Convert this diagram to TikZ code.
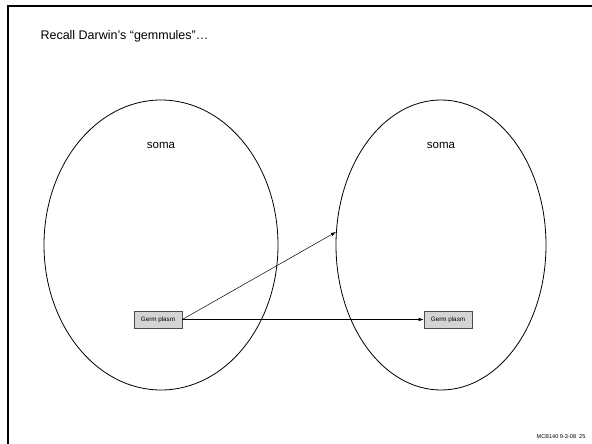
\documentclass[tikz,border=0pt]{standalone}
\usepackage{fontspec}
\setmainfont{Liberation Sans}
\usetikzlibrary{arrows.meta}
\begin{document}
\begin{tikzpicture}[x=1pt,y=-1pt,
  cell/.style={draw=black,line width=0.8pt},
  germ/.style={draw=black!70,fill=black!17,line width=0.6pt,minimum width=48pt,minimum height=17pt,inner sep=0pt,font=\fontsize{6.3}{7}\selectfont},
  link/.style={draw=black,line width=0.5pt,-{Latex[length=5pt,width=3.5pt]}}]
  \useasboundingbox (0,0) rectangle (592,444);
  % slide frame (top and left edges)
  \draw[line width=2pt] (592,6) -- (8,6) -- (8,444);
  \node[anchor=west,font=\fontsize{12.5}{14}\selectfont] (title) at (37,36) {Recall Darwin’s “gemmules”…};
  % two cells
  \draw[cell] (161,245) ellipse [x radius=117, y radius=145];
  \draw[cell] (441,245) ellipse [x radius=105, y radius=145];
  \node[font=\fontsize{11.5}{13}\selectfont] (somaL) at (161,145) {soma};
  \node[font=\fontsize{11.5}{13}\selectfont] (somaR) at (441,145) {soma};
  % germ plasm
  \node[germ] (gpL) at (158,319.5) {Germ plasm};
  \node[germ] (gpR) at (448,319.5) {Germ plasm};
  \coordinate (edgeR) at (336,232);
  \draw[link] (gpL.east) -- (gpR.west);
  \draw[link] (gpL.east) -- (edgeR);
  \node[anchor=east,font=\fontsize{5.6}{6}\selectfont] (foot) at (589,437) {MCB140 9-3-08\ \ 25};
\end{tikzpicture}
\end{document}
